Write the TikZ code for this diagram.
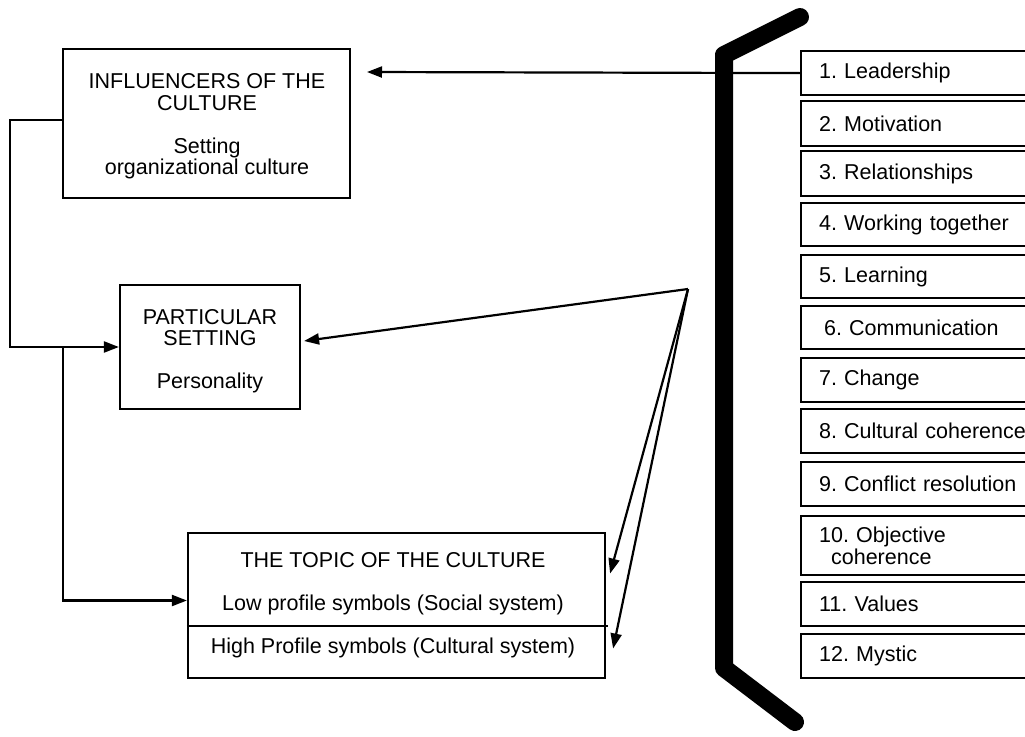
\documentclass[tikz,border=0pt]{standalone}
\usepackage{fontspec}
\setmainfont{Liberation Sans}
\usetikzlibrary{arrows.meta}
\frenchspacing
\begin{document}
\begin{tikzpicture}[x=1pt,y=-1pt,
  box/.style={draw, line width=2.2pt, inner sep=0pt},
  txt/.style={anchor=base, inner sep=0pt, font=\fontsize{21.5}{22}\selectfont},
  item/.style={draw, line width=2.2pt, anchor=north west, text width=240pt,
    inner xsep=18pt, inner ysep=0pt, align=left, font=\fontsize{21.5}{22}\selectfont},
  arr/.style={line width=2.2pt, -{Triangle[length=15pt,width=11pt]}},
  rule/.style={line width=2.2pt}]
\useasboundingbox (0,0) rectangle (1025,736);

% left-hand boxes
\node[box, minimum width=287pt, minimum height=149pt] (infl) at (206.5,123.5) {};
\node[txt] (infl1) at (207,88) {INFLUENCERS OF THE};
\node[txt] (infl2) at (207,110) {CULTURE};
\node[txt] (infl3) at (207,153) {Setting};
\node[txt] (infl4) at (207,174) {organizational culture};

\node[box, minimum width=180pt, minimum height=124pt] (part) at (210,347) {};
\node[txt] (part1) at (210,324) {PARTICULAR};
\node[txt] (part2) at (210,345) {SETTING};
\node[txt] (part3) at (210,388) {Personality};

\node[box, minimum width=417pt, minimum height=145pt] (topic) at (396.5,605.5) {};
\node[txt] (topic1) at (393,567) {THE TOPIC OF THE CULTURE};
\node[txt] (topic2) at (393,610) {Low profile symbols (Social system)};
\node[txt] (topic3) at (393,653) {High Profile symbols (Cultural system)};
\draw[rule] ([yshift=-20.5pt]topic.west) -- ([xshift=2pt,yshift=-20.5pt]topic.east);

% list of cultural factors
\node[item, minimum height=44pt] (r1) at (800,50) {1. Leadership};
\node[item, minimum height=45pt] (r2) at (800,100) {2. Motivation};
\node[item, minimum height=45pt] (r3) at (800,150) {3. Relationships};
\node[item, minimum height=43pt] (r4) at (800,202) {4. Working together};
\node[item, minimum height=43pt] (r5) at (800,254) {5. Learning};
\node[item, minimum height=43pt] (r6) at (800,305) {\hspace*{5pt}6. Communication};
\node[item, minimum height=44pt] (r7) at (800,357) {7. Change};
\node[item, minimum height=44pt] (r8) at (800,408) {8. Cultural coherence};
\node[item, minimum height=44pt] (r9) at (800,461) {9. Conflict resolution};
\node[item, minimum height=59pt] (r10) at (800,515) {10. Objective\\\hspace*{12pt}coherence};
\node[item, minimum height=44pt] (r11) at (800,581) {11. Values};
\node[item, minimum height=44pt] (r12) at (800,633) {12. Mystic};

% connectors
\coordinate (leadtip) at (367,72);
\draw[arr] (r1.west) -- (leadtip);

\coordinate (lx) at (10,120);
\draw[arr] ([yshift=3.5pt]infl.west) -| (lx |- part.west) -- (part.west);
\coordinate (bx) at (63,0);
\draw[arr] (bx |- part.west) |- ([yshift=5pt]topic.west);

\coordinate (hub) at (688,289);
\draw[arr] (hub) -- ([xshift=3pt,yshift=6pt]part.east);
\draw[arr] (hub) -- ([xshift=4pt,yshift=32pt]topic.east);
\draw[arr] (hub) -- ([xshift=7pt,yshift=-43pt]topic.east);

% heavy divider bar
\draw[line width=18pt, line cap=round, line join=round]
  (800,17) -- (724,55) -- (724,668) -- (795,722);
\end{tikzpicture}
\end{document}
